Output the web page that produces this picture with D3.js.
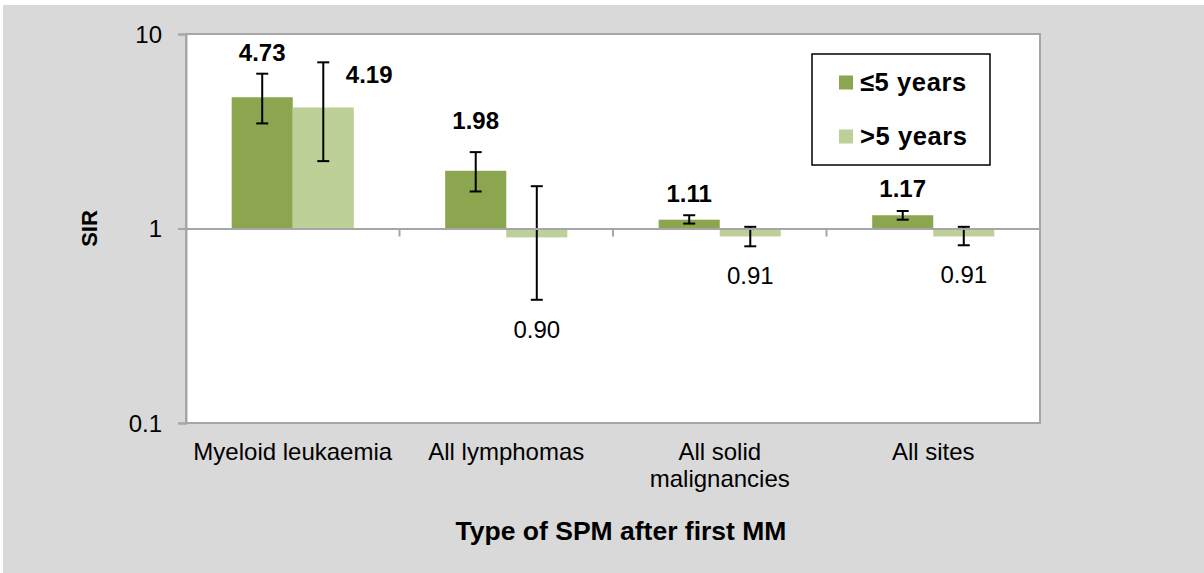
<!DOCTYPE html>
<html>
<head>
<meta charset="utf-8">
<script src="https://cdn.jsdelivr.net/npm/d3@7"></script>
<style>
  body { margin: 0; background: #fff; }
  svg { display: block; font-family: "Liberation Sans", Arial, sans-serif; }
</style>
</head>
<body>
<svg width="1204" height="573"></svg>
<script>
const width = 1204, height = 573;

// data
const categories = ["Myeloid leukaemia", "All lymphomas", "All solid malignancies", "All sites"];
const categoryLines = [["Myeloid leukaemia"], ["All lymphomas"], ["All solid", "malignancies"], ["All sites"]];
const seriesNames = ["≤5 years", ">5 years"];
const sirShort = [4.73, 1.98, 1.11, 1.17];
const lowShort = [3.47, 1.55, 1.06, 1.11];
const highShort = [6.25, 2.47, 1.17, 1.23];
const sirLong = [4.19, 0.90, 0.91, 0.91];
const lowLong = [2.22, 0.43, 0.81, 0.82];
const highLong = [7.15, 1.65, 1.02, 1.02];
const yTicks = [0.1, 1, 10];

const colors = ["#8ba64f", "#bcd098"];

const rows = categories.map((c, i) => ({
  cat: c,
  vals: [
    { s: 0, v: sirShort[i], lo: lowShort[i], hi: highShort[i] },
    { s: 1, v: sirLong[i], lo: lowLong[i], hi: highLong[i] }
  ]
}));

const margin = { left: 186, right: 164, top: 34, bottom: 150 };
const svg = d3.select("svg");

// backgrounds
svg.append("rect").attr("x", 3).attr("y", 5).attr("width", width).attr("height", height).attr("fill", "#d9d9d9");
svg.append("rect").attr("x", margin.left).attr("y", margin.top)
  .attr("width", width - margin.left - margin.right)
  .attr("height", height - margin.top - margin.bottom)
  .attr("fill", "#fff").attr("stroke", "#a6a6a6").attr("stroke-width", 2);

const x0 = d3.scaleBand().domain(categories).range([margin.left, width - margin.right]).padding(0);
const groupW = x0.bandwidth() * 0.572;
const x1 = d3.scaleBand().domain([0, 1]).range([0, groupW]);
const y = d3.scaleLog().domain([0.1, 10]).range([height - margin.bottom, margin.top]);

// y axis
const yAxis = svg.append("g").attr("transform", `translate(${margin.left},0)`)
  .call(d3.axisLeft(y).tickValues(yTicks).tickFormat(d3.format("")).tickSize(8).tickPadding(16));
yAxis.selectAll("path, line").attr("stroke", "#a6a6a6").attr("stroke-width", 2);
yAxis.selectAll("text").attr("font-size", 24).attr("fill", "#000").attr("dy", "0.35em");

// bars
const groups = svg.selectAll(".grp").data(rows).enter().append("g")
  .attr("transform", d => `translate(${x0(d.cat) + (x0.bandwidth() - groupW) / 2},0)`);

groups.selectAll("rect").data(d => d.vals).enter().append("rect")
  .attr("x", d => x1(d.s))
  .attr("width", x1.bandwidth())
  .attr("y", d => Math.min(y(d.v), y(1)))
  .attr("height", d => Math.abs(y(d.v) - y(1)))
  .attr("fill", d => colors[d.s]);

// x axis at SIR = 1
const xAxis = svg.append("g").attr("transform", `translate(0,${y(1)})`)
  .call(d3.axisBottom(x0).tickSize(0).tickFormat(""));
xAxis.select("path").attr("stroke", "#a6a6a6").attr("stroke-width", 2);
const bounds = d3.range(categories.length + 1).map(i => margin.left + i * x0.step());
svg.append("g").selectAll("line").data(bounds).enter().append("line")
  .attr("x1", d => d).attr("x2", d => d)
  .attr("y1", y(1)).attr("y2", y(1) + 8)
  .attr("stroke", "#a6a6a6").attr("stroke-width", 2);

// error bars
const cap = 6;
const eb = groups.selectAll(".eb").data(d => d.vals).enter().append("g")
  .attr("stroke", "#000").attr("stroke-width", 2);
eb.append("line")
  .attr("x1", d => x1(d.s) + x1.bandwidth() / 2).attr("x2", d => x1(d.s) + x1.bandwidth() / 2)
  .attr("y1", d => y(d.lo)).attr("y2", d => y(d.hi));
eb.append("line")
  .attr("x1", d => x1(d.s) + x1.bandwidth() / 2 - cap).attr("x2", d => x1(d.s) + x1.bandwidth() / 2 + cap)
  .attr("y1", d => y(d.lo)).attr("y2", d => y(d.lo));
eb.append("line")
  .attr("x1", d => x1(d.s) + x1.bandwidth() / 2 - cap).attr("x2", d => x1(d.s) + x1.bandwidth() / 2 + cap)
  .attr("y1", d => y(d.hi)).attr("y2", d => y(d.hi));

// value labels
const darkGap = [13, 23, 13, 14];
groups.append("text")
  .attr("x", x1(0) + x1.bandwidth() / 2)
  .attr("y", (d, i) => y(d.vals[0].hi) - darkGap[i])
  .attr("text-anchor", "middle").attr("font-size", 24).attr("font-weight", "bold")
  .text(d => d.vals[0].v.toFixed(2));

groups.append("text")
  .attr("x", (d, i) => i === 0 ? x1(1) + x1.bandwidth() - 8 : x1(1) + x1.bandwidth() / 2)
  .attr("y", (d, i) => i === 0 ? y(d.vals[1].v) - 24 : y(d.vals[1].lo) + 38)
  .attr("text-anchor", (d, i) => i === 0 ? "start" : "middle")
  .attr("font-size", 24)
  .attr("font-weight", (d, i) => i === 0 ? "bold" : "normal")
  .text(d => d.vals[1].v.toFixed(2));

// category labels
const catLabels = svg.append("g").selectAll("text").data(categories).enter().append("text")
  .attr("x", d => x0(d) + x0.bandwidth() / 2)
  .attr("y", 460)
  .attr("text-anchor", "middle").attr("font-size", 24);
catLabels.selectAll("tspan").data((d, i) => categoryLines[i]).enter().append("tspan")
  .attr("x", function () { return d3.select(this.parentNode).attr("x"); })
  .attr("dy", (d, i) => i === 0 ? 0 : 27)
  .text(d => d);

// axis titles
svg.append("text").attr("x", 621).attr("y", 540).attr("text-anchor", "middle")
  .attr("font-size", 26.5).attr("font-weight", "bold").text("Type of SPM after first MM");
svg.append("text").attr("transform", `translate(97,${(y(0.1) + y(10)) / 2}) rotate(-90)`)
  .attr("text-anchor", "middle").attr("font-size", 22).attr("font-weight", "bold").text("SIR");

// legend
const lg = svg.append("g");
lg.append("rect").attr("x", 812).attr("y", 54).attr("width", 178).attr("height", 111)
  .attr("fill", "#fff").attr("stroke", "#000").attr("stroke-width", 1.5);
const items = lg.selectAll(".item").data(seriesNames).enter().append("g")
  .attr("transform", (d, i) => `translate(839,${82.5 + i * 54})`);
items.append("rect").attr("x", 0).attr("y", -7).attr("width", 14).attr("height", 14)
  .attr("fill", (d, i) => colors[i]);
items.append("text").attr("x", 21).attr("y", 8.5).attr("font-size", 25.5).attr("font-weight", "bold")
  .attr("letter-spacing", 0.6)
  .text(d => d);
</script>
</body>
</html>
